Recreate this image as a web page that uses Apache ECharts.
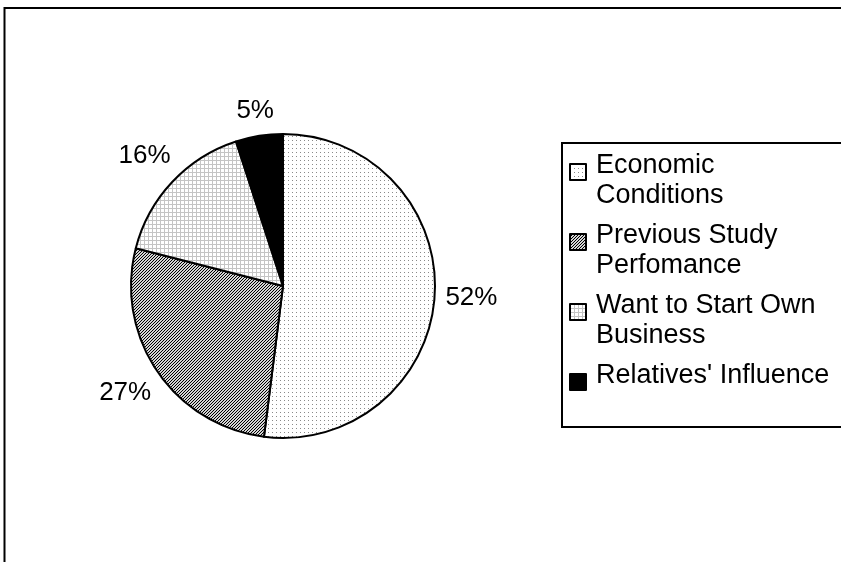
<!DOCTYPE html>
<html>
<head>
<meta charset="utf-8">
<script src="https://cdn.jsdelivr.net/npm/echarts@6/dist/echarts.min.js"></script>
<style>
  html, body { margin: 0; padding: 0; background: #fff; }
  #chart { width: 841px; height: 562px; }
</style>
</head>
<body>
<div id="chart"></div>
<script>
// ---- data ----
const categories = ['Economic Conditions', 'Previous Study Perfomance', 'Want to Start Own Business', "Relatives' Influence"];
const legendLines = [['Economic', 'Conditions'], ['Previous Study', 'Perfomance'], ['Want to Start Own', 'Business'], ["Relatives' Influence", ' ']];
const values = [52, 27, 16, 5];

// ---- fill patterns ----
function makeTile(size, bg, draw) {
  const c = document.createElement('canvas');
  c.width = size; c.height = size;
  const ctx = c.getContext('2d');
  ctx.fillStyle = bg; ctx.fillRect(0, 0, size, size);
  draw(ctx);
  return c;
}
const dotted = makeTile(4, '#ffffff', ctx => { ctx.fillStyle = '#8a8a8a'; ctx.fillRect(0, 0, 1, 1); });
const hatched = makeTile(3, '#d4d4d4', ctx => {
  ctx.fillStyle = '#000';
  for (let i = 0; i < 3; i++) ctx.fillRect(2 - i, i, 1, 1);
});
const grid = makeTile(4, '#ffffff', ctx => {
  ctx.fillStyle = '#c4c4c4';
  ctx.fillRect(0, 0, 4, 1); ctx.fillRect(0, 0, 1, 4);
});
const fills = [
  { image: dotted, repeat: 'repeat' },
  { image: hatched, repeat: 'repeat' },
  { image: grid, repeat: 'repeat' },
  '#000000'
];

const chart = echarts.init(document.getElementById('chart'), null, { renderer: 'canvas' });
const FONT = '"Liberation Sans", Arial, sans-serif';
const LABEL_GAP = 10;

const option = {
  animation: false,
  backgroundColor: '#ffffff',
  graphic: [
    { type: 'rect', z: 0, silent: true, shape: { x: 4.5, y: 8, width: 1000, height: 1000 },
      style: { fill: 'none', stroke: '#000', lineWidth: 2 } },
    { type: 'rect', z: 0, silent: true, shape: { x: 562, y: 143, width: 400, height: 284 },
      style: { fill: 'none', stroke: '#000', lineWidth: 2 } }
  ],
  legend: {
    orient: 'vertical',
    left: 569,
    top: 137,
    padding: 0,
    itemWidth: 16,
    itemHeight: 16,
    itemGap: -2.5,
    icon: 'rect',
    selectedMode: false,
    itemStyle: { borderColor: '#000', borderWidth: 2 },
    textStyle: {
      fontSize: 27, fontFamily: FONT, color: '#000', padding: [0, 0, 0, 5],
      rich: {
        e: { fontSize: 10, lineHeight: 18, fontFamily: FONT },
        t: { fontSize: 27, lineHeight: 30, fontFamily: FONT, color: '#000' }
      }
    },
    formatter: function (name) {
      const lines = legendLines[categories.indexOf(name)];
      return '{e| }\n' + lines.map(l => '{t|' + l + '}').join('\n');
    },
    data: categories
  },
  series: [{
    type: 'pie',
    center: [283, 286],
    radius: 152,
    startAngle: 90,
    clockwise: true,
    silent: true,
    itemStyle: { borderColor: '#000', borderWidth: 2 },
    label: {
      show: true,
      position: 'outside',
      formatter: '{d}%',
      fontSize: 26,
      fontFamily: FONT,
      color: '#000'
    },
    labelLine: { show: false, length: 0, length2: 0 },
    labelLayout: function (p) {
      const data = chart.getModel().getSeriesByIndex(0).getData();
      const lay = data.getItemLayout(p.dataIndex);
      const mid = (lay.startAngle + lay.endAngle) / 2;
      const dx = Math.cos(mid), dy = Math.sin(mid);
      const k = p.labelRect.width / 2 * Math.abs(dx) + p.labelRect.height / 2 * Math.abs(dy);
      const R = lay.r + LABEL_GAP + k;
      return { x: lay.cx + R * dx, y: lay.cy + R * dy, align: 'center', verticalAlign: 'middle' };
    },
    data: categories.map((name, i) => ({ name: name, value: values[i], itemStyle: { color: fills[i] } }))
  }]
};
chart.setOption(option);
</script>
</body>
</html>
